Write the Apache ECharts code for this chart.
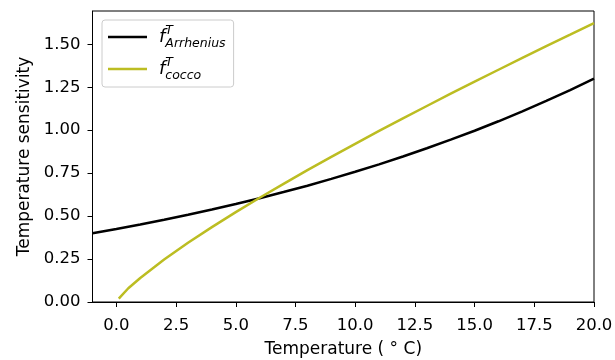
<!DOCTYPE html>
<html>
<head>
<meta charset="utf-8">
<script src="https://cdn.jsdelivr.net/npm/echarts@6/dist/echarts.min.js"></script>
<style>
  html, body { margin: 0; padding: 0; background: #fff; }
  #chart { width: 615px; height: 360px; }
</style>
</head>
<body>
<div id="chart"></div>
<script>
// temperatures (°C) and read-off values
const arrTemps = [-1, 0, 1, 2, 3, 4, 5, 6, 7, 8, 9, 10, 11, 12, 13, 14, 15, 16, 17, 18, 19, 20];
const arrValues = [0.400, 0.425, 0.451, 0.479, 0.508, 0.538, 0.570, 0.604, 0.640, 0.677, 0.717,
  0.758, 0.801, 0.847, 0.895, 0.945, 0.997, 1.052, 1.110, 1.171, 1.234, 1.300];
const coccoTemps = [0.1, 0.5, 1, 2, 3, 4, 5, 6, 7, 8, 9, 10, 11, 12, 13, 14, 15, 16, 17, 18, 19, 20];
const coccoValues = [0.02, 0.08, 0.14, 0.247, 0.345, 0.436, 0.523, 0.607, 0.688, 0.768, 0.845, 0.921,
  0.996, 1.069, 1.141, 1.213, 1.283, 1.352, 1.421, 1.49, 1.556, 1.623];
const xTicks = [0, 2.5, 5, 7.5, 10, 12.5, 15, 17.5, 20];
const yTicks = [0, 0.25, 0.5, 0.75, 1.0, 1.25, 1.5];

const font = 'DejaVu Sans';
const chart = echarts.init(document.getElementById('chart'));

const richText = {
  f: { fontFamily: font, fontSize: 18, fontStyle: 'italic', color: '#000', lineHeight: 26, verticalAlign: 'middle' },
  t: { fontFamily: font, fontSize: 12.5, fontStyle: 'italic', color: '#000', width: 0, verticalAlign: 'top', lineHeight: 12 },
  s: { fontFamily: font, fontSize: 12.5, fontStyle: 'italic', color: '#000', verticalAlign: 'bottom', lineHeight: 12 }
};

chart.setOption({
  animation: false,
  grid: {
    left: 92.5, right: 21, top: 11, bottom: 58,
    outerBoundsMode: 'none',
    show: true, borderColor: '#000', borderWidth: 1
  },
  legend: {
    left: 102, top: 20,
    orient: 'vertical',
    icon: 'rect',
    itemWidth: 39, itemHeight: 2.5,
    itemGap: 6,
    padding: [4, 8, 5, 6],
    borderColor: '#cccccc', borderWidth: 1, borderRadius: 3,
    backgroundColor: 'rgba(255,255,255,0.8)',
    formatter: function (name) { return '{f|f}{t|T}{s|' + name + '}'; },
    textStyle: { rich: richText, padding: [0, 0, 0, 7] }
  },
  xAxis: {
    type: 'value', min: -1, max: 20,
    name: 'Temperature ( \u00b0 C)', nameLocation: 'middle', nameGap: 39,
    nameTextStyle: { fontFamily: font, fontSize: 17, color: '#000' },
    axisLine: { show: true, onZero: false, lineStyle: { color: '#000', width: 1 } },
    axisTick: { show: true, length: 5, customValues: xTicks, lineStyle: { color: '#000' } },
    axisLabel: {
      customValues: xTicks, margin: 15,
      fontFamily: font, fontSize: 16.5, color: '#000',
      formatter: v => v.toFixed(1)
    },
    splitLine: { show: false }
  },
  yAxis: {
    type: 'value', min: 0, max: 1.694,
    name: 'Temperature sensitivity', nameLocation: 'middle', nameGap: 58,
    nameTextStyle: { fontFamily: font, fontSize: 17, color: '#000' },
    axisLine: { show: true, onZero: false, lineStyle: { color: '#000', width: 1 } },
    axisTick: { show: true, length: 5, customValues: yTicks, lineStyle: { color: '#000' } },
    axisLabel: {
      customValues: yTicks, margin: 12,
      fontFamily: font, fontSize: 16.5, color: '#000',
      formatter: v => v.toFixed(2)
    },
    splitLine: { show: false }
  },
  series: [
    {
      name: 'Arrhenius', type: 'line', smooth: false, showSymbol: false,
      data: arrTemps.map((t, i) => [t, arrValues[i]]),
      itemStyle: { color: '#000000' },
      lineStyle: { color: '#000000', width: 2.5 }
    },
    {
      name: 'cocco', type: 'line', smooth: false, showSymbol: false,
      data: coccoTemps.map((t, i) => [t, coccoValues[i]]),
      itemStyle: { color: '#bcbd22' },
      lineStyle: { color: '#bcbd22', width: 2.5 }
    }
  ]
});
</script>
</body>
</html>
